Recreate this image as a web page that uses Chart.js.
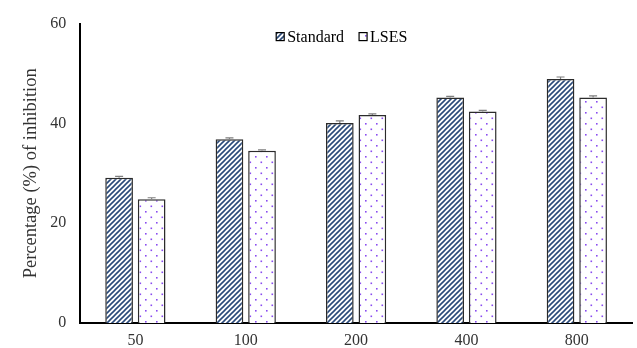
<!DOCTYPE html>
<html>
<head>
<meta charset="utf-8">
<script src="https://cdn.jsdelivr.net/npm/chart.js@4.4.1/dist/chart.umd.min.js"></script>
<style>
  body { margin: 0; background: #fff; }
  #wrap { width: 637px; height: 348px; }
</style>
</head>
<body>
<div id="wrap"><canvas id="inhChart" width="637" height="348"></canvas></div>
<script>
// concentrations on the x axis
var doses = ['50', '100', '200', '400', '800'];
// % inhibition
var standardVals = [29.1, 36.8, 40.1, 45.2, 48.9];
var lsesVals = [24.8, 34.5, 41.7, 42.4, 45.2];
// error bars (tiny)
var standardErr = [0.3, 0.3, 0.4, 0.2, 0.4];
var lsesErr = [0.3, 0.2, 0.2, 0.2, 0.3];
var yTicks = [0, 20, 40, 60];

// hatch pattern for Standard
function hatch(){
  var c = document.createElement('canvas');
  c.width = 5; c.height = 5;
  var g = c.getContext('2d');
  g.fillStyle = '#fff';
  g.fillRect(0, 0, 5, 5);
  g.strokeStyle = '#2a4a7a';
  g.lineWidth = 1.6;
  g.beginPath();
  g.moveTo(0, 5); g.lineTo(5, 0);
  g.moveTo(-1, 1); g.lineTo(1, -1);
  g.moveTo(4, 6); g.lineTo(6, 4);
  g.stroke();
  return g.createPattern(c, 'repeat');
}

// dotted pattern for LSES
function dots(){
  var c = document.createElement('canvas');
  c.width = 11; c.height = 11;
  var g = c.getContext('2d');
  g.fillStyle = '#fff';
  g.fillRect(0, 0, 11, 11);
  g.fillStyle = '#8a4cf0';
  g.fillRect(2, 2, 1.6, 1.6);
  g.fillRect(7.5, 7.5, 1.6, 1.6);
  return g.createPattern(c, 'repeat');
}

var errBars = {
  id: 'errBars',
  afterDatasetsDraw: function(chart){
    var ctx = chart.ctx;
    var y = chart.scales.y;
    var errs = [standardErr, lsesErr];
    ctx.save();
    ctx.strokeStyle = '#7f7f7f';
    ctx.lineWidth = 1.2;
    chart.data.datasets.forEach(function(ds, di){
      chart.getDatasetMeta(di).data.forEach(function(bar, i){
        var top = y.getPixelForValue(ds.data[i] + errs[di][i]);
        var base = y.getPixelForValue(ds.data[i]);
        ctx.beginPath();
        ctx.moveTo(bar.x, base); ctx.lineTo(bar.x, top);
        ctx.moveTo(bar.x - 4, top); ctx.lineTo(bar.x + 4, top);
        ctx.stroke();
      });
    });
    ctx.restore();
  }
};

// legend drawn inside the plot, top centre
var innerLegend = {
  id: 'innerLegend',
  afterDraw: function(chart){
    var ctx = chart.ctx;
    var area = chart.chartArea;
    var x = area.left + 196;
    var y = area.top + 13;
    ctx.save();
    ctx.font = '16px "Liberation Serif"';
    ctx.textBaseline = 'middle';
    chart.data.datasets.forEach(function(ds){
      ctx.fillStyle = ds.backgroundColor;
      ctx.fillRect(x, y - 4, 8, 8);
      ctx.strokeStyle = '#000';
      ctx.lineWidth = 1.2;
      ctx.strokeRect(x, y - 4, 8, 8);
      ctx.fillStyle = '#000';
      ctx.fillText(ds.label, x + 11, y + 1);
      x += 11 + ctx.measureText(ds.label).width + 15;
    });
    ctx.restore();
  }
};

var ctx = document.getElementById('inhChart').getContext('2d');
var inhChart = new Chart(ctx, {
  type: 'bar',
  data: {
    labels: doses,
    datasets: [{
      label: 'Standard',
      data: standardVals,
      backgroundColor: hatch(),
      borderColor: '#2b2b2b',
      borderWidth: 1.5
    }, {
      label: 'LSES',
      data: lsesVals,
      backgroundColor: dots(),
      borderColor: '#2b2b2b',
      borderWidth: 1.5
    }]
  },
  options: {
    responsive: false,
    animation: false,
    layout: { padding: { left: 16, right: 5, top: 14, bottom: -11 } },
    datasets: { bar: { categoryPercentage: 0.59, barPercentage: 0.85 } },
    plugins: {
      tooltip: { enabled: false },
      legend: { display: false }
    },
    scales: {
      x: {
        grid: { display: false, drawTicks: false },
        border: { color: '#000', width: 2 },
        ticks: { color: '#333', padding: 10, font: { family: 'Liberation Serif', size: 16, lineHeight: 1 } }
      },
      y: {
        min: 0,
        max: 60,
        afterBuildTicks: function(axis){
          axis.ticks = yTicks.map(function(v){ return { value: v }; });
        },
        grid: { display: false, drawTicks: false },
        border: { color: '#000', width: 2 },
        ticks: { color: '#333', padding: 14, font: { family: 'Liberation Serif', size: 16 } },
        title: {
          display: true,
          text: 'Percentage (%) of inhibition',
          color: '#333',
          padding: { top: 4, bottom: -6 },
          font: { family: 'Liberation Serif', size: 18.5 }
        }
      }
    }
  },
  plugins: [errBars, innerLegend]
});
</script>
</body>
</html>
